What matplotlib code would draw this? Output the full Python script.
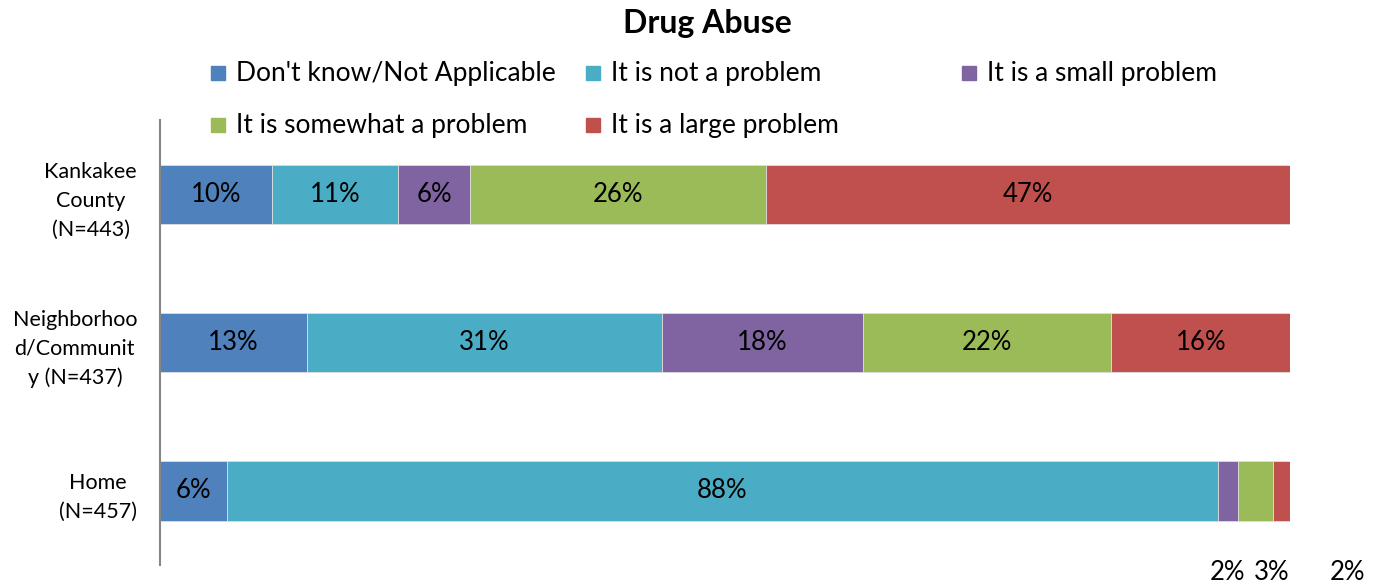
import matplotlib
matplotlib.use("Agg")
import matplotlib.pyplot as plt
from matplotlib.patches import Rectangle
import numpy as np

plt.rcParams['font.family'] = ['Lato', 'DejaVu Sans']

categories = ["Kankakee\nCounty\n(N=443)", "Neighborhoo\nd/Communit\ny (N=437)", "Home\n(N=457)"]
series_names = ["Don't know/Not Applicable", "It is not a problem", "It is a small problem",
                "It is somewhat a problem", "It is a large problem"]
dont_know = [9.9, 13.0, 5.9]
not_problem = [11.2, 31.4, 87.7]
small_problem = [6.3, 17.8, 1.8]
somewhat_problem = [26.2, 22.0, 3.1]
large_problem = [46.5, 15.8, 1.5]
labels = [["10%", "11%", "6%", "26%", "47%"],
          ["13%", "31%", "18%", "22%", "16%"],
          ["6%", "88%", "2%", "3%", "2%"]]
colors = ["#4F81BD", "#4BACC6", "#8064A2", "#9BBB59", "#C0504D"]

series = [dont_know, not_problem, small_problem, somewhat_problem, large_problem]

fig = plt.figure(figsize=(13.73, 5.86), dpi=100)
ax = fig.add_axes([160/1373, 1-565/586, 1130/1373, 445/586])

y = np.arange(len(categories))
left = np.zeros(len(categories))
for s, (vals, col) in enumerate(zip(series, colors)):
    vals = np.array(vals)
    ax.barh(y, vals, left=left, height=0.4, color=col, edgecolor='#dddddd', linewidth=0.6)
    for i in range(len(categories)):
        if vals[i] >= 4:
            ax.text(left[i] + vals[i]/2, y[i], labels[i][s], ha='center', va='center',
                    fontsize=18.5, color='black')
    left = left + vals

# small outside labels for Home bar (shifted to avoid overlap)
home = 2
cum = np.cumsum([v[home] for v in series])
starts = cum - np.array([v[home] for v in series])
offsets = {2: 0.0, 3: 1.45, 4: 5.85}
for s, off in offsets.items():
    cx = starts[s] + series[s][home]/2 + off
    ax.text(cx, 2.55, labels[home][s], ha='center', va='center', fontsize=18.5,
            clip_on=False)

ax.set_xlim(0, 100)
ax.set_ylim(2.5, -0.5)
ax.set_yticks(y)
ax.set_yticklabels(categories, fontsize=15.5, multialignment='center', linespacing=1.55)
ax.tick_params(axis='y', length=0, pad=16.5)
ax.set_xticks([])
for sp in ['top', 'right', 'bottom']:
    ax.spines[sp].set_visible(False)
ax.spines['left'].set_color('#868686')
ax.spines['left'].set_linewidth(1.5)

# title
fig.text(707/1373, 1-23/586, "Drug Abuse", ha='center', va='center', fontsize=23,
         fontweight='bold')

# legend (manual, Excel-like layout)
leg_x = [211, 586, 962]
leg_rows = [73, 125]
sq = 14
for k, name in enumerate(series_names):
    r, c = divmod(k, 3)
    x0 = leg_x[c]
    yc = leg_rows[r]
    fig.patches.append(Rectangle((x0/1373, 1-(yc+sq/2)/586), sq/1373, sq/586,
                                 transform=fig.transFigure, color=colors[k]))
    fig.text((x0+sq+11)/1373, 1-yc/586, name, ha='left', va='center', fontsize=19)

fig.savefig("out.png", dpi=100)
